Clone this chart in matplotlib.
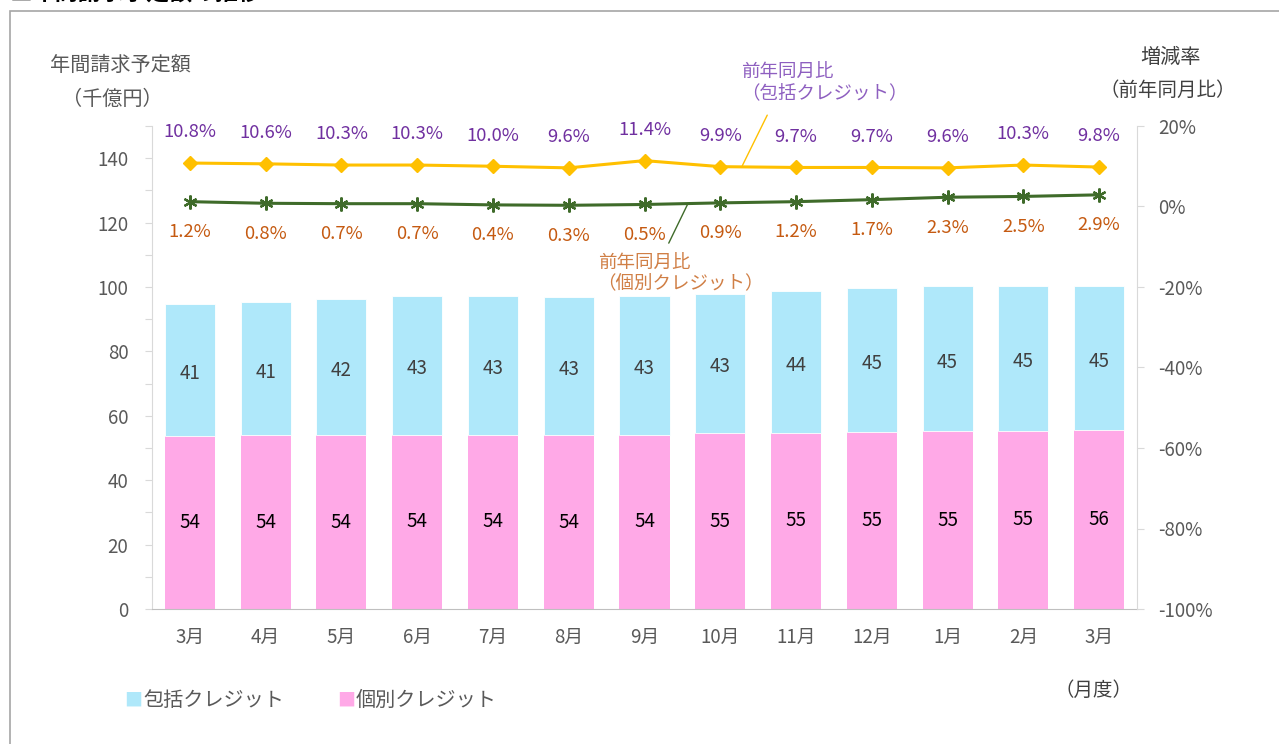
import matplotlib
matplotlib.use("Agg")
import matplotlib.pyplot as plt
from matplotlib.patches import Rectangle
from matplotlib.ticker import MultipleLocator, FuncFormatter
import numpy as np

plt.rcParams['font.family'] = ['Noto Sans CJK JP', 'DejaVu Sans']

# data
months = ['3月', '4月', '5月', '6月', '7月', '8月', '9月', '10月', '11月', '12月', '1月', '2月', '3月']
kobetsu = [53.8, 53.9, 53.9, 54.1, 54.1, 54.0, 54.1, 54.6, 54.7, 54.9, 55.2, 55.3, 55.6]
housetsu = [40.9, 41.4, 42.3, 43.1, 43.1, 43.0, 43.1, 43.2, 44.0, 44.7, 45.0, 44.9, 44.8]
yoy_housetsu = [10.8, 10.6, 10.3, 10.3, 10.0, 9.6, 11.4, 9.9, 9.7, 9.7, 9.6, 10.3, 9.8]
yoy_kobetsu = [1.2, 0.8, 0.7, 0.7, 0.4, 0.3, 0.5, 0.9, 1.2, 1.7, 2.3, 2.5, 2.9]

c_pink = '#FFA9E7'
c_blue = '#AFE8FA'
c_gold = '#FFC000'
c_green = '#3F6B2A'
c_purple = '#7030A0'
c_orange = '#C55A11'
c_tick = '#595959'
c_axis = '#D9D9D9'

W, H = 1279, 744
fig = plt.figure(figsize=(W / 100, H / 100), dpi=100)

# outer frame and cut-off title
fig.patches.append(Rectangle((10 / W, -0.1), 1.2, 1 - 11 / H + 0.1, transform=fig.transFigure,
                             fill=False, edgecolor='#A6A6A6', linewidth=1.2))
fig.text(10 / W, 1 - 6 / H, '■年間請求予定額の推移', fontsize=16.5, fontweight='bold',
         va='bottom', ha='left', color='#000000')

ax = fig.add_axes([152 / W, (H - 609) / H, 985 / W, 483 / H])
x = np.arange(len(months))
ax.bar(x, kobetsu, width=0.66, color=c_pink, zorder=2)
ax.bar(x, housetsu, width=0.66, bottom=kobetsu, color=c_blue, edgecolor='white', linewidth=0.6, zorder=2)

for i in range(len(months)):
    ax.text(x[i], kobetsu[i] / 2, f'{kobetsu[i]:.0f}', ha='center', va='center', fontsize=13.5, color='#000000')
    ax.text(x[i], kobetsu[i] + housetsu[i] / 2 - 1, f'{housetsu[i]:.0f}', ha='center', va='center',
            fontsize=13.5, color='#404040')

ax.set_xlim(-0.5, len(months) - 0.5)
ax.set_ylim(0, 150)
ax.set_xticks(x)
ax.set_xticklabels(months)
ax.yaxis.set_major_locator(MultipleLocator(10))
ax.yaxis.set_major_formatter(FuncFormatter(lambda v, p: f'{v:.0f}' if v % 20 == 0 and v < 150 else ''))
ax.tick_params(axis='x', length=0, pad=13, labelsize=13.5, colors=c_tick)
ax.tick_params(axis='y', length=5, pad=12, labelsize=13.5, colors=c_tick)
ax.tick_params(axis='y', color=c_axis)
for s in ['top', 'right']:
    ax.spines[s].set_visible(False)
ax.spines['left'].set_color(c_axis)
ax.spines['bottom'].set_color('#BFBFBF')

ax2 = ax.twinx()
ax2.plot(x, yoy_housetsu, color=c_gold, linewidth=2.2, marker='D', markersize=7, zorder=3)
ax2.plot(x, yoy_kobetsu, color=c_green, linewidth=2.2, marker=(6, 2, 0), markersize=10,
         markeredgewidth=1.6, zorder=3)
ax2.set_ylim(-100, 20)
ax2.set_xlim(-0.5, len(months) - 0.5)
ax2.yaxis.set_major_locator(MultipleLocator(20))
ax2.yaxis.set_major_formatter(FuncFormatter(lambda v, p: f'{v:.0f}%'))
ax2.tick_params(axis='y', length=5, pad=10, labelsize=13.5, colors=c_tick)
ax2.tick_params(axis='y', color=c_axis)
for s in ['top', 'left', 'bottom']:
    ax2.spines[s].set_visible(False)
ax2.spines['right'].set_color(c_axis)

for i in range(len(months)):
    ax2.annotate(f'{yoy_housetsu[i]:.1f}%', (x[i], yoy_housetsu[i]), xytext=(0, 22),
                 textcoords='offset points', ha='center', va='center', fontsize=13.3, color=c_purple)
    ax2.annotate(f'{yoy_kobetsu[i]:.1f}%', (x[i], yoy_kobetsu[i]), xytext=(0, -22),
                 textcoords='offset points', ha='center', va='center', fontsize=13.3, color=c_orange)

# callouts
ax2.text(7.28, 30.8, '前年同月比\n（包括クレジット）', ha='left', va='center', fontsize=13.3,
         color='#8E5FC0', linespacing=1.2)
ax2.annotate('', xy=(7.29, 10.1), xytext=(7.62, 22.7),
             arrowprops=dict(arrowstyle='-', color=c_gold, linewidth=1, shrinkA=0, shrinkB=0))
ax2.text(5.38, -16.6, '前年同月比\n（個別クレジット）', ha='left', va='center', fontsize=13.3,
         color='#D07F45', linespacing=1.2)
ax2.annotate('', xy=(6.57, 0.6), xytext=(6.32, -9.1),
             arrowprops=dict(arrowstyle='-', color=c_green, linewidth=1, shrinkA=0, shrinkB=0))

# axis titles
fig.text(50 / W, 1 - 65 / H, '年間請求予定額', ha='left', va='center', fontsize=14.5, color=c_tick)
fig.text(62 / W, 1 - 99 / H, '（千億円）', ha='left', va='center', fontsize=14.5, color=c_tick)
fig.text(1170 / W, 1 - 57 / H, '増減率', ha='center', va='center', fontsize=14.5, color='#404040')
fig.text(1168 / W, 1 - 90 / H, '（前年同月比）', ha='center', va='center', fontsize=14, color='#404040')
fig.text(1093 / W, 1 - 690 / H, '（月度）', ha='center', va='center', fontsize=14, color='#404040')

# legend
fig.text(124 / W, 1 - 701 / H, '■', ha='left', va='center', fontsize=13, color=c_blue)
fig.text(143 / W, 1 - 700 / H, '包括クレジット', ha='left', va='center', fontsize=14.5, color=c_tick)
fig.text(337 / W, 1 - 701 / H, '■', ha='left', va='center', fontsize=13, color=c_pink)
fig.text(356 / W, 1 - 700 / H, '個別クレジット', ha='left', va='center', fontsize=14.5, color=c_tick)

fig.savefig('out.png', dpi=100)
